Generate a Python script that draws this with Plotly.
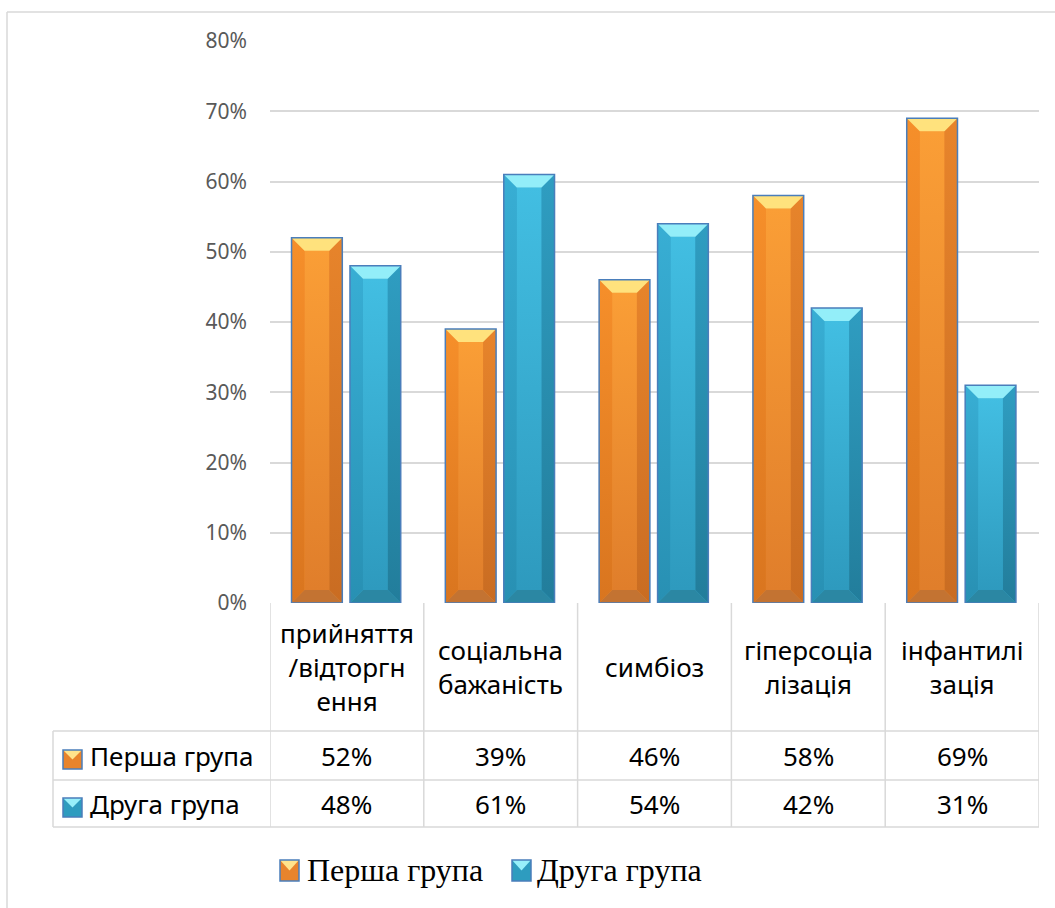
import plotly.graph_objects as go

# ---- data -------------------------------------------------------------
categories = [
    "прийняття<br>/відторгн<br>ення",
    "соціальна<br>бажаність",
    "симбіоз",
    "гіперсоціа<br>лізація",
    "інфантилі<br>зація",
]
series_names = ["Перша група", "Друга група"]
first_group = [52, 39, 46, 58, 69]
second_group = [48, 61, 54, 42, 31]
y_ticks = [0, 10, 20, 30, 40, 50, 60, 70, 80]

# ---- page / plot-area geometry (pixels) --------------------------------
W, H = 1055, 908
L, R, T, B = 270, 1039, 41, 603
Y_MAX = 80


def px(x):
    return (x - L) / (R - L)


def py(y):
    return (B - y) / (B - T)


n = len(categories)
ux = (R - L) / n            # pixels per category unit
uy = (B - T) / Y_MAX        # pixels per percent
bev_x = 13 / ux
bev_y = 13 / uy
bar_w = 0.33
offsets = [-0.36, 0.02]

styles = [
    dict(face=("#E07E2B", "#FA9E36"), left=("#D9751F", "#F68F2A"),
         right=("#C96C22", "#E7842B"), top="#FFE27D", bottom="#C37332",
         mid="#F18E30", key_top="#FFE48C", key_body="#E8842C"),
    dict(face=("#2E9ABE", "#42BEE2"), left=("#2890B3", "#38AED4"),
         right=("#227D9B", "#2F9DC1"), top="#93EEF9", bottom="#2B87A3",
         mid="#38ADD3", key_top="#98F0FA", key_body="#2E9CBF"),
]
outline = "#4A7EBB"
grid = "#D9D9D9"
sans = "Noto Sans"
table_size = 26

fig = go.Figure()

all_values = [first_group, second_group]
xs = list(range(n))

# base bars
for s, vals in enumerate(all_values):
    fig.add_trace(go.Bar(
        x=xs, y=vals, name=series_names[s], offset=offsets[s], width=bar_w,
        marker=dict(color=styles[s]["mid"], line=dict(width=0)),
        showlegend=False,
        hovertemplate=series_names[s] + ": %{y}%<extra></extra>",
    ))


def poly(fig, xsq, ysq, color=None, grad=None):
    kw = dict(x=xsq, y=ysq, mode="lines", fill="toself",
              line=dict(width=0), hoverinfo="skip", showlegend=False)
    if grad:
        kw["fillgradient"] = dict(type="vertical",
                                  colorscale=[[0, grad[0]], [1, grad[1]]])
        kw["fillcolor"] = grad[1]
    else:
        kw["fillcolor"] = color
    fig.add_trace(go.Scatter(**kw))


# bevelled faces of every bar
for s, vals in enumerate(all_values):
    st = styles[s]
    ox, oy = [], []
    for i, v in enumerate(vals):
        x0 = i + offsets[s]
        x1 = x0 + bar_w
        a, b = x0 + bev_x, x1 - bev_x
        poly(fig, [a, b, b, a, a], [bev_y, bev_y, v - bev_y, v - bev_y, bev_y],
             grad=st["face"])
        poly(fig, [x0, a, a, x0, x0], [0, bev_y, v - bev_y, v, 0],
             grad=st["left"])
        poly(fig, [x1, b, b, x1, x1], [0, bev_y, v - bev_y, v, 0],
             grad=st["right"])
        poly(fig, [x0, x1, b, a, x0], [v, v, v - bev_y, v - bev_y, v],
             color=st["top"])
        poly(fig, [x0, x1, b, a, x0], [0, 0, bev_y, bev_y, 0],
             color=st["bottom"])
        ox += [x0, x1, x1, x0, x0, None]
        oy += [0, 0, v, v, 0, None]
    fig.add_trace(go.Scatter(x=ox, y=oy, mode="lines",
                             line=dict(color=outline, width=1.5),
                             hoverinfo="skip", showlegend=False))

shapes = []
annotations = []

# outer chart frame (left and top edges)
shapes.append(dict(type="line", xref="paper", yref="paper",
                   x0=px(7), x1=px(W), y0=py(12), y1=py(12),
                   line=dict(color=grid, width=1.5)))
shapes.append(dict(type="line", xref="paper", yref="paper",
                   x0=px(7), x1=px(7), y0=py(12), y1=py(H),
                   line=dict(color=grid, width=1.5)))

# data table grid
tbl = dict(color=grid, width=1.5)
row_tops = [731, 780, 827]
for yy in row_tops:
    shapes.append(dict(type="line", xref="paper", yref="paper",
                       x0=px(53), x1=px(R), y0=py(yy), y1=py(yy), line=tbl))
for k in range(n + 1):
    shapes.append(dict(type="line", xref="x", yref="paper",
                       x0=k - 0.5, x1=k - 0.5, y0=py(B), y1=py(827), line=tbl))
shapes.append(dict(type="line", xref="paper", yref="paper",
                   x0=px(53), x1=px(53), y0=py(731), y1=py(827), line=tbl))

# category headers
for i, c in enumerate(categories):
    annotations.append(dict(x=i, y=py(667), xref="x", yref="paper", text=c,
                            showarrow=False, xanchor="center", yanchor="middle",
                            font=dict(family=sans, size=table_size,
                                      color="#000000")))

# value rows
row_centers = [756, 804]
for s, vals in enumerate(all_values):
    for i, v in enumerate(vals):
        annotations.append(dict(x=i, y=py(row_centers[s]), xref="x", yref="paper",
                                text=f"{v}%", showarrow=False,
                                xanchor="center", yanchor="middle",
                                font=dict(family=sans, size=table_size,
                                          color="#000000")))


def key(x0, y0, size_w, size_h, st):
    xa, xb = px(x0), px(x0 + size_w)
    ya, yb = py(y0), py(y0 + size_h)
    xm, ym = px(x0 + size_w / 2), py(y0 + size_h / 2)
    shapes.append(dict(type="rect", xref="paper", yref="paper",
                       x0=xa, x1=xb, y0=yb, y1=ya, fillcolor=st["key_body"],
                       line=dict(width=0)))
    shapes.append(dict(type="path", xref="paper", yref="paper",
                       path=f"M{xa},{ya} L{xb},{ya} L{xm},{ym} Z",
                       fillcolor=st["key_top"], line=dict(width=0)))
    shapes.append(dict(type="rect", xref="paper", yref="paper",
                       x0=xa, x1=xb, y0=yb, y1=ya, fillcolor="rgba(0,0,0,0)",
                       line=dict(color=outline, width=1.5)))


# row labels with keys
for s, name in enumerate(series_names):
    key(63, row_centers[s] - 6, 19, 19, styles[s])
    annotations.append(dict(x=px(88), y=py(row_centers[s]), xref="paper", yref="paper",
                            text=name, showarrow=False, xanchor="left",
                            yanchor="middle",
                            font=dict(family=sans, size=table_size,
                                      color="#000000")))

# legend below the table
legend_x = [(280, 305), (512, 535)]
for s, name in enumerate(series_names):
    kx, tx = legend_x[s]
    key(kx, 860, 19, 21, styles[s])
    annotations.append(dict(x=px(tx), y=py(870), xref="paper", yref="paper",
                            text=name, showarrow=False, xanchor="left",
                            yanchor="middle",
                            font=dict(family="Liberation Serif", size=32,
                                      color="#000000")))

fig.update_layout(
    width=W, height=H,
    margin=dict(l=L, r=W - R, t=T, b=H - B),
    paper_bgcolor="#FFFFFF", plot_bgcolor="#FFFFFF",
    barmode="overlay",
    shapes=shapes, annotations=annotations,
    showlegend=False,
    xaxis=dict(range=[-0.5, n - 0.5], showticklabels=False, showgrid=False,
               zeroline=False, showline=False, fixedrange=True),
    yaxis=dict(range=[0, Y_MAX], tickvals=y_ticks,
               ticktext=[f"{t}%" for t in y_ticks],
               showgrid=True, gridcolor=grid, gridwidth=1.5, zeroline=False,
               showline=False, ticks="", ticklabelstandoff=22,
               tickfont=dict(family=sans, size=21, color="#595959"),
               fixedrange=True),
)

fig.write_html("out.html")
